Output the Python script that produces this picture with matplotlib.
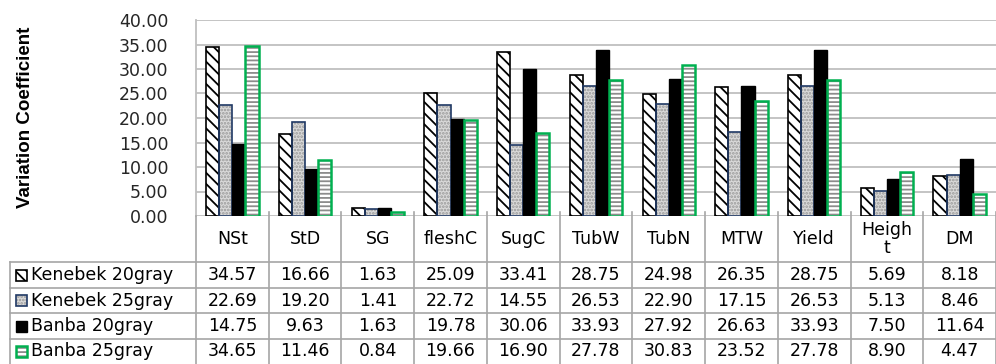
import matplotlib
matplotlib.use("Agg")
import matplotlib.pyplot as plt
from matplotlib import font_manager
from matplotlib.patches import Rectangle
import numpy as np

categories = ["NSt", "StD", "SG", "fleshC", "SugC", "TubW", "TubN", "MTW", "Yield", "Heigh\nt", "DM"]
series_names = ["Kenebek 20gray", "Kenebek 25gray", "Banba 20gray", "Banba 25gray"]
kenebek_20 = [34.57, 16.66, 1.63, 25.09, 33.41, 28.75, 24.98, 26.35, 28.75, 5.69, 8.18]
kenebek_25 = [22.69, 19.20, 1.41, 22.72, 14.55, 26.53, 22.90, 17.15, 26.53, 5.13, 8.46]
banba_20 = [14.75, 9.63, 1.63, 19.78, 30.06, 33.93, 27.92, 26.63, 33.93, 7.50, 11.64]
banba_25 = [34.65, 11.46, 0.84, 19.66, 16.90, 27.78, 30.83, 23.52, 27.78, 8.90, 4.47]
series_values = [kenebek_20, kenebek_25, banba_20, banba_25]
y_ticks = [0, 5, 10, 15, 20, 25, 30, 35, 40]

plt.rcParams["hatch.linewidth"] = 1.3
plt.rcParams["font.family"] = ["DejaVu Sans"]

# pick a narrow bold face for the axis title if one is installed
names = {f.name for f in font_manager.fontManager.ttflist}
title_family = "DejaVu Sans"
for cand in ["Liberation Sans Narrow", "DejaVu Sans Condensed", "Liberation Sans"]:
    if cand in names:
        title_family = cand
        break

# fill / hatch / edge for each series; the hatch layer and the outline are drawn separately
styles = [
    dict(face="white", hatch="\\\\\\", hcolor="black", edge="black", lw=1.2),
    dict(face="#DADADA", hatch=".....", hcolor="#999999", edge="#1F3864", lw=1.2),
    dict(face="black", hatch=None, hcolor="black", edge="black", lw=1.0),
    dict(face="white", hatch="----", hcolor="#8C8C8C", edge="#00B050", lw=1.8),
]

W, H = 996, 364
fig = plt.figure(figsize=(W / 100, H / 100), dpi=100)

# layout in pixels
left_px, top_px, zero_px = 196, 20, 216
ax = fig.add_axes([left_px / W, 1 - zero_px / H, 1 - left_px / W, (zero_px - top_px) / H])

n = len(categories)
x = np.arange(n) + 0.5
bw = 0.18
for k, (vals, st) in enumerate(zip(series_values, styles)):
    xs = x + (k - 1.5) * bw
    ax.bar(xs, vals, bw, color=st["face"], hatch=st["hatch"], edgecolor=st["hcolor"],
           linewidth=0, zorder=3)
    ax.bar(xs, vals, bw, fill=False, edgecolor=st["edge"], linewidth=st["lw"], zorder=4)

ax.set_xlim(0, n)
ax.set_ylim(0, 40)
ax.set_yticks(y_ticks)
ax.set_yticklabels([f"{t:.2f}" for t in y_ticks], fontsize=12.5, color="#262626")
ax.tick_params(axis="y", length=0, pad=20)
ax.set_xticks([])
ax.grid(axis="y", color="#BFBFBF", linewidth=1.3, zorder=0)
for side in ["top", "right", "bottom"]:
    ax.spines[side].set_visible(False)
ax.spines["left"].set_color("#BFBFBF")
ax.spines["left"].set_linewidth(1.3)

fig.text(25 / W, 1 - 117 / H, "Variation Coefficient", rotation=90, ha="center", va="center",
         fontsize=13.5, fontweight="bold", family=title_family)

# data table under the chart, drawn in pixel coordinates
tab = fig.add_axes([0, 0, 1, 1])
tab.set_xlim(0, W)
tab.set_ylim(H, 0)
tab.axis("off")

line_c = "#A6A6A6"
col_w = (W - left_px) / n
row_lines = [262, 288, 313, 339]
row_centers = [275, 300.5, 326, 351.5]

for yl in row_lines:
    tab.plot([10, W], [yl, yl], color=line_c, lw=1.2)
tab.plot([10, 10], [262, H], color=line_c, lw=1.2)
tab.plot([left_px, left_px], [zero_px, H], color=line_c, lw=1.2)
for j in range(1, n + 1):
    xb = left_px + j * col_w
    tab.plot([xb, xb], [212, H], color=line_c, lw=1.2)

for j, cat in enumerate(categories):
    tab.text(left_px + (j + 0.5) * col_w, 239, cat, ha="center", va="center",
             fontsize=12.5, linespacing=1.05)

for k, (name, vals, st) in enumerate(zip(series_names, series_values, styles)):
    yc = row_centers[k]
    tab.add_patch(Rectangle((16, yc - 5.5), 11, 11, facecolor=st["face"], hatch=st["hatch"],
                            edgecolor=st["hcolor"], linewidth=0))
    tab.add_patch(Rectangle((16, yc - 5.5), 11, 11, fill=False, edgecolor=st["edge"],
                            linewidth=st["lw"]))
    tab.text(31, yc, name, ha="left", va="center", fontsize=12.5)
    for j, v in enumerate(vals):
        tab.text(left_px + (j + 0.5) * col_w, yc, f"{v:.2f}", ha="center", va="center",
                 fontsize=12.5)

fig.savefig("out.png", dpi=100)
